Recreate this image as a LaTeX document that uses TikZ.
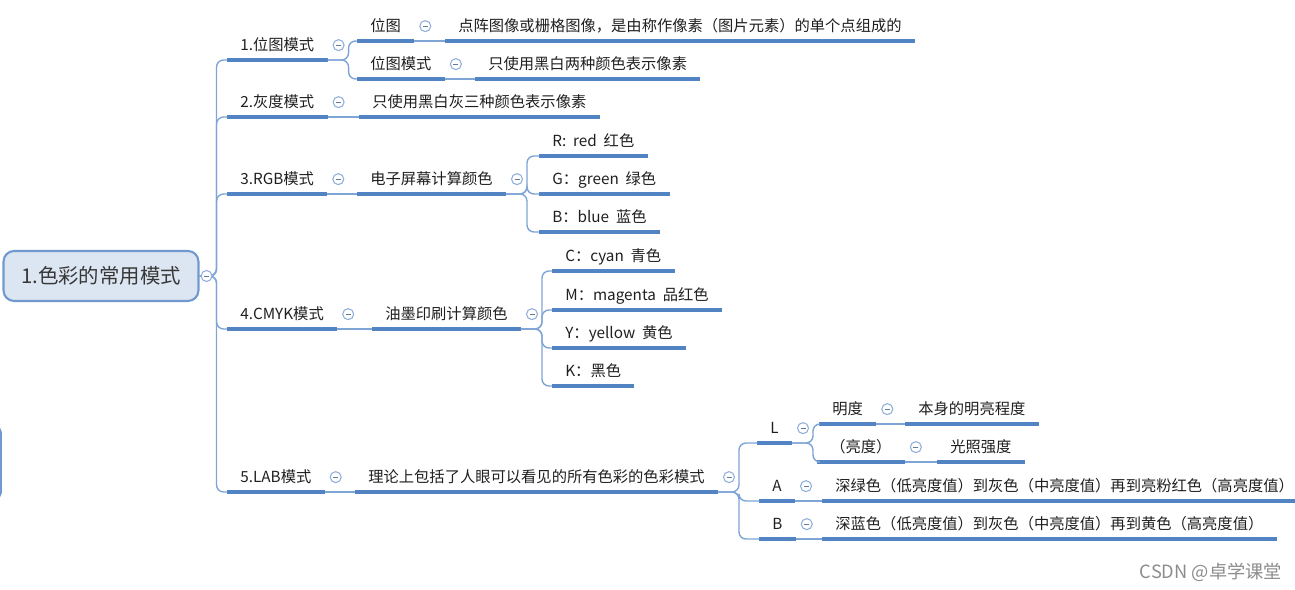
\documentclass[tikz,border=0pt]{standalone}
\usepackage{fontspec}
\setmainfont{Noto Sans CJK SC}
\usetikzlibrary{positioning, calc}
\definecolor{mapline}{HTML}{5284C4}
\definecolor{mapconn}{HTML}{7FA5D6}
\definecolor{rootfill}{HTML}{DCE6F2}
\definecolor{rootedge}{HTML}{7099CF}
\definecolor{foldedge}{HTML}{8FAEDA}

\begin{document}
\begin{tikzpicture}[x=0.02cm, y=-0.02cm,
    root/.style={rectangle, rounded corners=6pt, draw=rootedge, line width=1.2pt,
                 fill=rootfill, minimum width=3.9cm, minimum height=1cm,
                 font=\fontsize{11.6}{13}\selectfont, text=black!78},
    topic/.style={anchor=south west, inner xsep=0.26cm, inner ysep=0.13cm,
                  text height=0.27cm, text depth=0.05cm, text=black!88,
                  font=\fontsize{8.7}{10}\selectfont,
                  append after command={(\tikzlastnode.south west)
                    edge[uline] (\tikzlastnode.south east)}},
    uline/.style={draw=mapline, line width=1.9pt},
    conn/.style={draw=mapconn, line width=0.8pt, rounded corners=4pt},
    fold/.style={circle, draw=foldedge, fill=white, line width=0.6pt,
                 minimum size=0.22cm, inner sep=0pt,
                 path picture={\draw[foldedge!70!black, line width=0.5pt]
                   (path picture bounding box.center) +(-0.05cm,0cm) -- +(0.05cm,0cm);}}
  ]
    \useasboundingbox (0,0) rectangle (1295,590);

    % root
    \node[root] (root) at (101,276) {1.色彩的常用模式};
    \coordinate (root-f) at ($(root.east)+(17,0)$);

    % first level
    \node[topic] (bitmap) at (227,60) {1.位图模式};
    \node[topic] (gray) at (227,117) {2.灰度模式};
    \node[topic] (rgb) at (227,194) {3.RGB模式};
    \node[topic] (cmyk) at (227,329) {4.CMYK模式};
    \node[topic] (lab) at (227,492) {5.LAB模式};

    % bitmap
    \node[topic] (bmA) at (357,41) {位图};
    \node[topic] (bmAd) at (445,41) {点阵图像或栅格图像，是由称作像素（图片元素）的单个点组成的};
    \node[topic] (bmB) at (357,79) {位图模式};
    \node[topic] (bmBd) at (475,79) {只使用黑白两种颜色表示像素};

    % gray
    \node[topic] (grayd) at (359,117) {只使用黑白灰三种颜色表示像素};

    % rgb
    \node[topic] (rgbd) at (357,194) {电子屏幕计算颜色};
    \node[topic] (red) at (539,156) {R:~~red~~红色};
    \node[topic] (green) at (539,194) {G：green~~绿色};
    \node[topic] (blue) at (539,232) {B：blue~~蓝色};

    % cmyk
    \node[topic] (cmykd) at (372,329) {油墨印刷计算颜色};
    \node[topic] (cyan) at (552,271) {C：cyan~~青色};
    \node[topic] (magenta) at (552,310) {M：magenta~~品红色};
    \node[topic] (yellow) at (552,348) {Y：yellow~~黄色};
    \node[topic] (black) at (552,386) {K：黑色};

    % lab
    \node[topic] (labd) at (355,492) {理论上包括了人眼可以看见的所有色彩的色彩模式};
    \node[topic] (labL) at (757,443) {L};
    \node[topic] (lightA) at (819,424) {明度};
    \node[topic] (lightAd) at (905,424) {本身的明亮程度};
    \node[topic] (lightB) at (817,462) {（亮度）};
    \node[topic] (lightBd) at (937,462) {光照强度};
    \node[topic] (labA) at (759,501) {A};
    \node[topic] (labAd) at (822,501) {深绿色（低亮度值）到灰色（中亮度值）再到亮粉红色（高亮度值）};
    \node[topic] (labB) at (759,539) {B};
    \node[topic] (labBd) at (822,539) {深蓝色（低亮度值）到灰色（中亮度值）再到黄色（高亮度值）};

    % connectors
    \foreach \c in {bitmap, gray, rgb, cmyk, lab}
      \draw[conn, rounded corners=4pt] (root.east) -- (root-f) |- (\c.south west);
    \foreach \p/\kids in {bitmap/{bmA,bmB}, rgbd/{red,green,blue},
                          cmykd/{cyan,magenta,yellow,black},
                          labd/{labL,labA,labB}, labL/{lightA,lightB}}
      \foreach \c in \kids
        \draw[conn] (\p.south east) -- ($(\p.south east)+(21,0)$) |- (\c.south west);
    \foreach \p/\c in {gray/grayd, rgb/rgbd, cmyk/cmykd, lab/labd, bmA/bmAd,
                       bmB/bmBd, lightA/lightAd, lightB/lightBd, labA/labAd, labB/labBd}
      \draw[conn] (\p.south east) -- (\c.south west);

    % fold markers
    \node[fold] (root-o) at ($(root.east)+(7,0)$) {};
    \foreach \p in {bitmap, gray, rgb, cmyk, lab, bmA, bmB, rgbd, cmykd, labd,
                    labL, lightA, lightB, labA, labB}
      \node[fold, right=0.1cm of \p.east] (\p-o) {};

    % cut-off neighbour at the left edge
    \draw[rootedge, line width=1pt, rounded corners=3pt] (-30,427) rectangle (1,498);

    \node[font=\fontsize{10.4}{12}\selectfont, text=black!45] (mark) at (1211,572)
      {CSDN @卓学课堂};
\end{tikzpicture}
\end{document}
